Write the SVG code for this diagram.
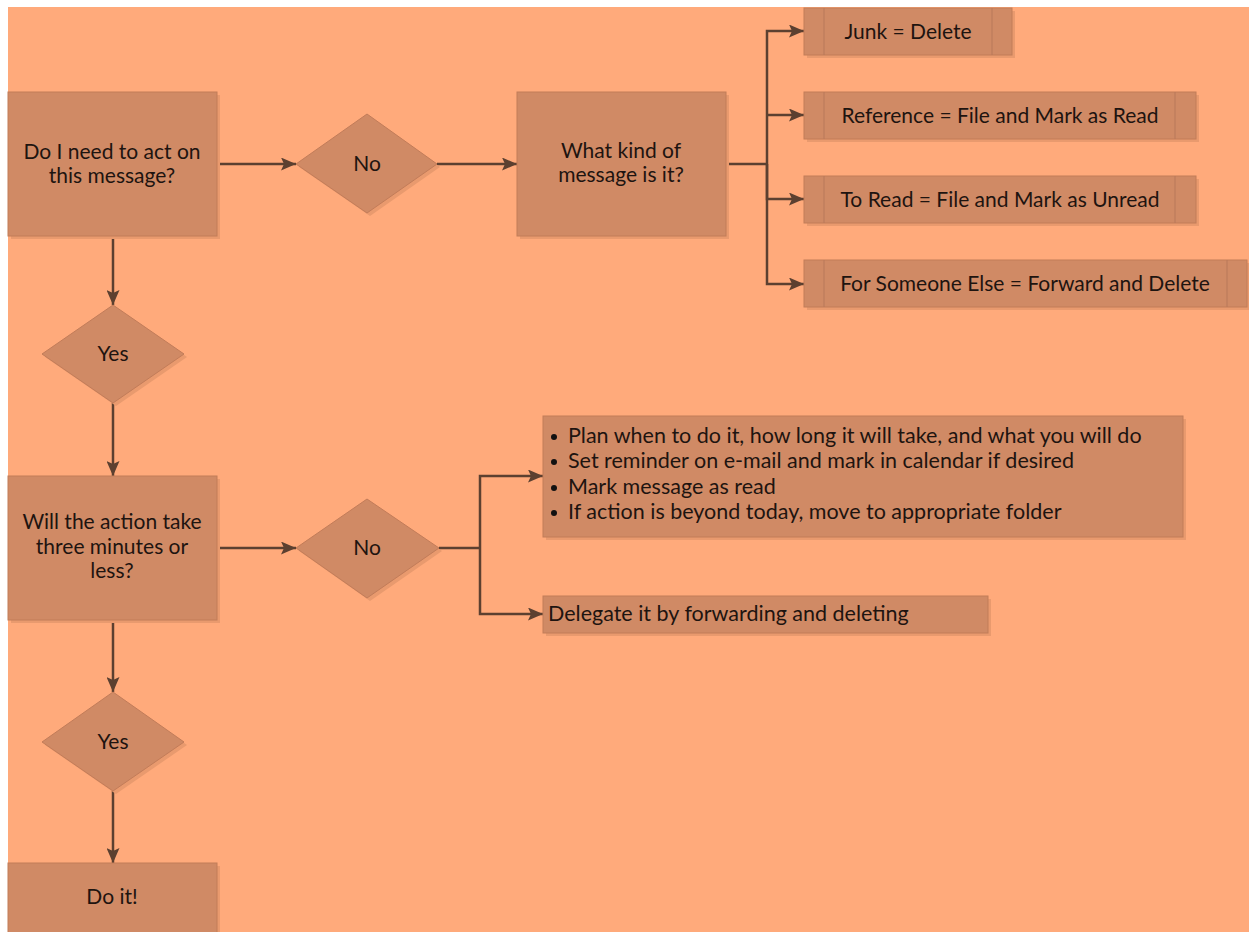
<svg xmlns="http://www.w3.org/2000/svg" width="1249" height="932" viewBox="0 0 1249 932">
<defs>
<style>
.bg{fill:#FFAA7B}
.box{fill:#D08A65;stroke:#C27C59;stroke-width:1}
.sh{fill:#E99A6E}
.div{stroke:#B8785A;stroke-width:1}
.t{font-family:Lato,"Open Sans",sans-serif;font-size:21px;fill:#1E1410;text-anchor:middle}
.tl{font-family:Lato,"Open Sans",sans-serif;font-size:21.5px;fill:#1E1410}
.c{fill:none;stroke:#5C4030;stroke-width:2.5}
</style>
<marker id="ah" markerUnits="userSpaceOnUse" markerWidth="15" markerHeight="13" refX="15" refY="6.5" orient="auto">
<path d="M0,0 L15,6.5 L0,13 L3,6.5 Z" fill="#5C4030"/>
</marker>
</defs>
<rect x="0" y="0" width="1249" height="932" fill="#FFFFFF"/>
<rect class="bg" x="8" y="7" width="1241" height="925"/>

<g id="connectors">
<path class="c" d="M217,164 H296" marker-end="url(#ah)"/>
<path class="c" d="M437,164 H517" marker-end="url(#ah)"/>
<path class="c" d="M726,164 H767"/>
<path class="c" d="M767,164 V31 H804" marker-end="url(#ah)"/>
<path class="c" d="M767,115 H804" marker-end="url(#ah)"/>
<path class="c" d="M767,164 V199 H804" marker-end="url(#ah)"/>
<path class="c" d="M767,164 V284 H804" marker-end="url(#ah)"/>
<path class="c" d="M113,236 V305" marker-end="url(#ah)"/>
<path class="c" d="M113,403 V476" marker-end="url(#ah)"/>
<path class="c" d="M217,548 H296" marker-end="url(#ah)"/>
<path class="c" d="M439,548 H480"/>
<path class="c" d="M480,548 V476 H543" marker-end="url(#ah)"/>
<path class="c" d="M480,548 V614 H543" marker-end="url(#ah)"/>
<path class="c" d="M113,620 V692" marker-end="url(#ah)"/>
<path class="c" d="M113,791 V863" marker-end="url(#ah)"/>
</g>

<g id="n-act">
<rect class="sh" x="11" y="95" width="209" height="144"/>
<rect class="box" x="8" y="92" width="209" height="144"/>
<text class="t" x="112" y="159">Do I need to act on</text>
<text class="t" x="112" y="183">this message?</text>
</g>

<g id="d-no1">
<polygon class="sh" points="299,167 370,117 440,167 370,216"/>
<polygon class="box" points="296,164 367,114 437,164 367,213"/>
<text class="t" x="367" y="171">No</text>
</g>

<g id="n-kind">
<rect class="sh" x="520" y="95" width="209" height="144"/>
<rect class="box" x="517" y="92" width="209" height="144"/>
<text class="t" x="621" y="158">What kind of</text>
<text class="t" x="621" y="182">message is it?</text>
</g>

<g id="p-junk">
<rect class="sh" x="807" y="11" width="208" height="47"/>
<rect class="box" x="804" y="8" width="208" height="47"/>
<line class="div" x1="824" y1="8" x2="824" y2="55"/>
<line class="div" x1="992" y1="8" x2="992" y2="55"/>
<text class="t" x="908" y="39">Junk = Delete</text>
</g>

<g id="p-ref">
<rect class="sh" x="807" y="95" width="392" height="47"/>
<rect class="box" x="804" y="92" width="392" height="47"/>
<line class="div" x1="824" y1="92" x2="824" y2="139"/>
<line class="div" x1="1175" y1="92" x2="1175" y2="139"/>
<text class="t" x="1000" y="123">Reference = File and Mark as Read</text>
</g>

<g id="p-toread">
<rect class="sh" x="807" y="179" width="392" height="47"/>
<rect class="box" x="804" y="176" width="392" height="47"/>
<line class="div" x1="824" y1="176" x2="824" y2="223"/>
<line class="div" x1="1175" y1="176" x2="1175" y2="223"/>
<text class="t" x="1000" y="207">To Read = File and Mark as Unread</text>
</g>

<g id="p-else">
<rect class="sh" x="807" y="263" width="443" height="47"/>
<rect class="box" x="804" y="260" width="443" height="47"/>
<line class="div" x1="824" y1="260" x2="824" y2="307"/>
<line class="div" x1="1227" y1="260" x2="1227" y2="307"/>
<text class="t" x="1025" y="291">For Someone Else = Forward and Delete</text>
</g>

<g id="d-yes1">
<polygon class="sh" points="45,357 116,308 187,357 116,406"/>
<polygon class="box" points="42,354 113,305 184,354 113,403"/>
<text class="t" x="113" y="361">Yes</text>
</g>

<g id="n-three">
<rect class="sh" x="11" y="479" width="209" height="144"/>
<rect class="box" x="8" y="476" width="209" height="144"/>
<text class="t" x="112" y="529">Will the action take</text>
<text class="t" x="112" y="554">three minutes or</text>
<text class="t" x="112" y="578">less?</text>
</g>

<g id="d-no2">
<polygon class="sh" points="299,551 370,502 442,551 370,601"/>
<polygon class="box" points="296,548 367,499 439,548 367,598"/>
<text class="t" x="367" y="555">No</text>
</g>

<g id="n-plan">
<rect class="sh" x="546" y="419" width="640" height="121"/>
<rect class="box" x="543" y="416" width="640" height="121"/>
<circle cx="554" cy="437" r="3" fill="#111"/>
<circle cx="554" cy="462" r="3" fill="#111"/>
<circle cx="554" cy="488" r="3" fill="#111"/>
<circle cx="554" cy="513" r="3" fill="#111"/>
<text class="tl" x="568" y="443">Plan when to do it, how long it will take, and what you will do</text>
<text class="tl" x="568" y="468">Set reminder on e-mail and mark in calendar if desired</text>
<text class="tl" x="568" y="494">Mark message as read</text>
<text class="tl" x="568" y="519">If action is beyond today, move to appropriate folder</text>
</g>

<g id="n-delegate">
<rect class="sh" x="546" y="599" width="445" height="37"/>
<rect class="box" x="543" y="596" width="445" height="37"/>
<text class="tl" x="548" y="621">Delegate it by forwarding and deleting</text>
</g>

<g id="d-yes2">
<polygon class="sh" points="45,745 116,695 187,745 116,794"/>
<polygon class="box" points="42,742 113,692 184,742 113,791"/>
<text class="t" x="113" y="749">Yes</text>
</g>

<g id="n-doit">
<rect class="sh" x="11" y="866" width="209" height="80"/>
<rect class="box" x="8" y="863" width="209" height="80"/>
<text class="t" x="112" y="904">Do it!</text>
</g>
</svg>
